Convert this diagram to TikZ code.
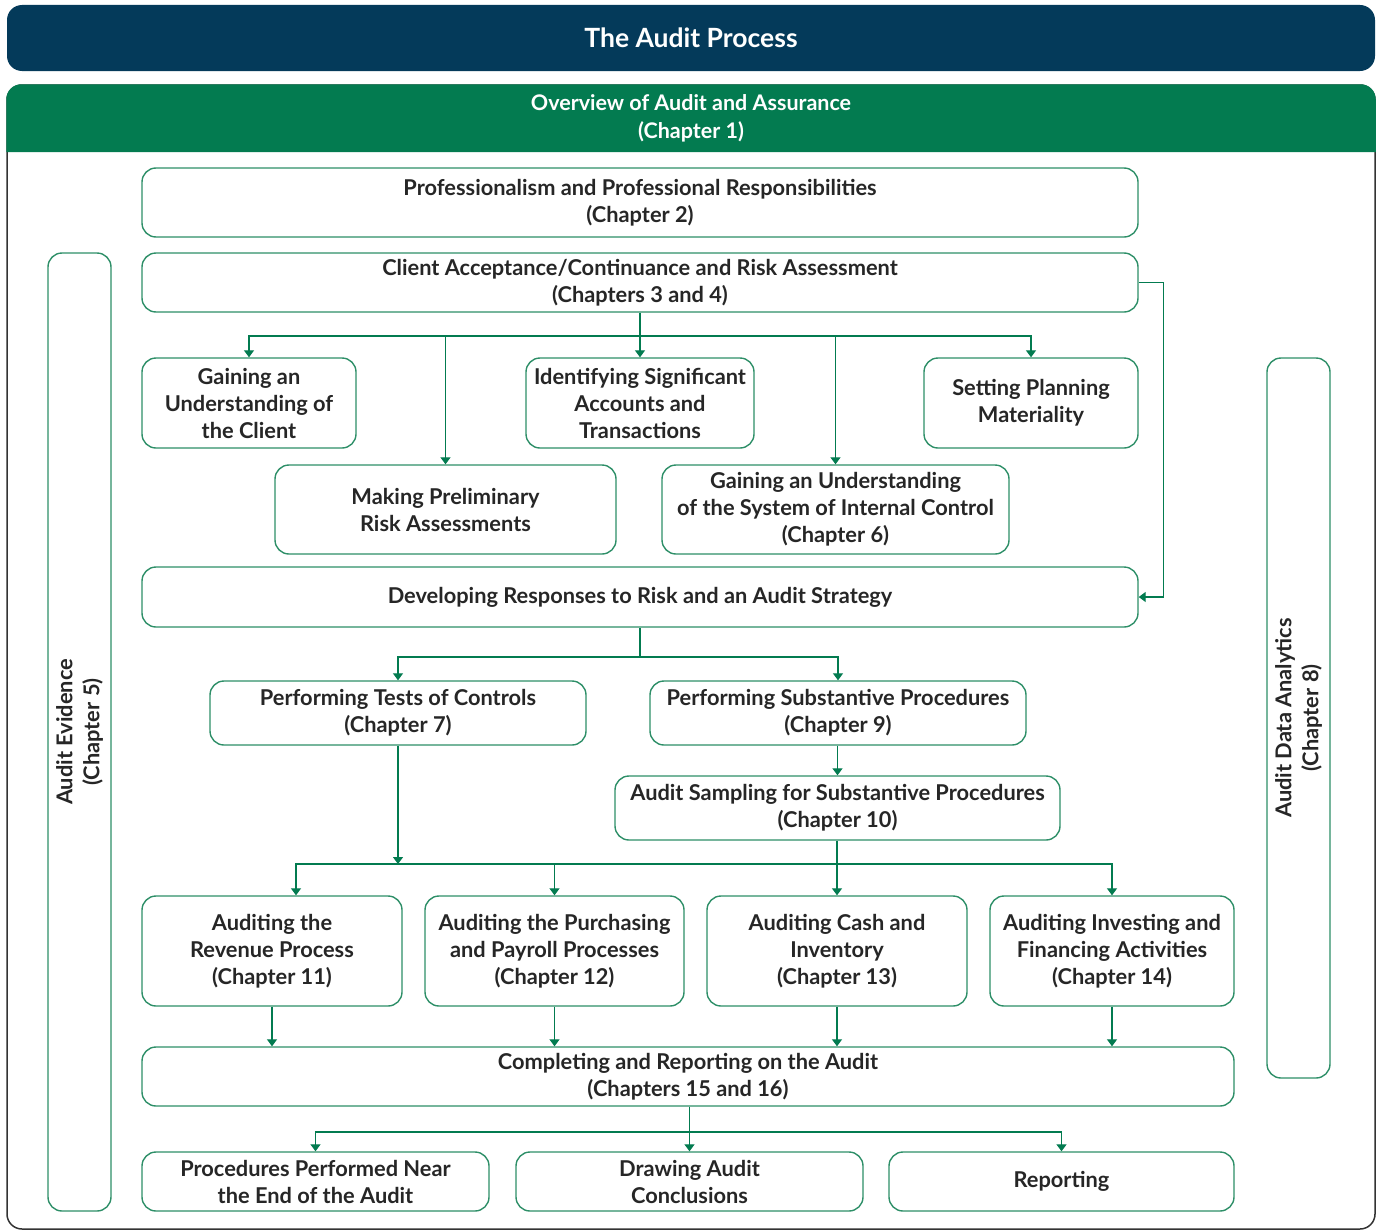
\documentclass[tikz,border=0pt]{standalone}
\usepackage{fontspec}
\setmainfont{Lato}
\usepackage{xcolor}
\usetikzlibrary{arrows.meta,positioning,calc}
\definecolor{navy}{HTML}{043A5A}
\definecolor{audgreen}{HTML}{037B50}
\definecolor{boxline}{HTML}{2E8F68}
\definecolor{txt}{HTML}{262626}
\tikzset{
  box/.style={rectangle, rounded corners=14pt, draw=boxline, line width=1.4pt,
    fill=white, align=center, text=txt, inner sep=2pt,
    font=\bfseries\fontsize{21.8}{27}\selectfont},
  vbox/.style={box, rotate=90, minimum height=63pt},
  hdr/.style={align=center, text=white, font=\bfseries\fontsize{21.5}{28}\selectfont},
  tr/.style={-{Triangle[length=7pt,width=10pt]}, draw=audgreen, line width=1.3pt},
  ln/.style={draw=audgreen, line width=1.3pt},
}
\begin{document}
\begin{tikzpicture}[x=1pt,y=-1pt]
  \useasboundingbox (0,0) rectangle (1380,1231);
  % title bar and frame
  \node[fill=navy, rounded corners=15pt, minimum width=1368pt, minimum height=66pt,
    text=white, font=\bfseries\fontsize{26.5}{30}\selectfont] (title) at (691,38) {The Audit Process};
  \draw[draw=black!80, line width=1.5pt, rounded corners=15pt] (7,85) rectangle (1375,1229);
  \fill[audgreen] (6.25,152) {[rounded corners=15pt] -- (6.25,84.25) -- (1375.75,84.25)} -- (1375.75,152) -- cycle;
  \node[hdr] (overview) at (691,118) {Overview of Audit and Assurance\\(Chapter 1)};

  % side boxes
  \node[vbox, minimum width=958pt] (evid) at (79.5,732) {Audit Evidence\\(Chapter 5)};
  \node[vbox, minimum width=720pt] (ada) at (1298.5,718) {Audit Data Analytics\\(Chapter 8)};

  % planning
  \node[box, minimum width=996pt, minimum height=69pt] (prof) at (640,202.5)
    {Professionalism and Professional Responsibilities\\(Chapter 2)};
  \node[box, minimum width=996pt, minimum height=59pt] (client) at (640,282.5)
    {Client Acceptance/Continuance and Risk Assessment\\(Chapters 3 and 4)};
  \node[box, minimum width=214pt, minimum height=90pt] (gclient) at (249,403)
    {Gaining an\\Understanding of\\the Client};
  \node[box, minimum width=228pt, minimum height=90pt] (ident) at (640,403)
    {Identifying Significant\\Accounts and\\Transactions};
  \node[box, minimum width=214pt, minimum height=90pt] (setting) at (1031,403)
    {Setting Planning\\Materiality};
  \node[box, minimum width=341pt, minimum height=89pt] (prelim) at (445.5,509.5)
    {Making Preliminary\\Risk Assessments};
  \node[box, minimum width=347pt, minimum height=89pt] (intctl) at (835.5,509.5)
    {Gaining an Understanding\\of the System of Internal Control\\(Chapter 6)};
  \node[box, minimum width=996pt, minimum height=60pt] (dev) at (640,597)
    {Developing Responses to Risk and an Audit Strategy};

  % testing
  \node[box, minimum width=376pt, minimum height=64pt] (toc) at (398,713)
    {Performing Tests of Controls\\(Chapter 7)};
  \node[box, minimum width=376pt, minimum height=64pt] (subst) at (838,713)
    {Performing Substantive Procedures\\(Chapter 9)};
  \node[box, minimum width=445pt, minimum height=64pt] (samp) at (837.5,808)
    {Audit Sampling for Substantive Procedures\\(Chapter 10)};
  \node[box, minimum width=260pt, minimum height=110pt] (rev) at (272,951)
    {Auditing the\\Revenue Process\\(Chapter 11)};
  \node[box, minimum width=259pt, minimum height=110pt] (purch) at (554.5,951)
    {Auditing the Purchasing\\and Payroll Processes\\(Chapter 12)};
  \node[box, minimum width=260pt, minimum height=110pt] (cash) at (837,951)
    {Auditing Cash and\\Inventory\\(Chapter 13)};
  \node[box, minimum width=244pt, minimum height=110pt] (inv) at (1112,951)
    {Auditing Investing and\\Financing Activities\\(Chapter 14)};

  % completion
  \node[box, minimum width=1092pt, minimum height=59pt] (compl) at (688,1076.5)
    {Completing and Reporting on the Audit\\(Chapters 15 and 16)};
  \node[box, minimum width=347pt, minimum height=59pt] (proc) at (315.5,1181.5)
    {Procedures Performed Near\\the End of the Audit};
  \node[box, minimum width=347pt, minimum height=59pt] (drw) at (689.5,1181.5)
    {Drawing Audit\\Conclusions};
  \node[box, minimum width=345pt, minimum height=59pt] (rep) at (1061.5,1181.5)
    {Reporting};

  % connectors
  \coordinate (bus1) at (640,336);
  \draw[tr] (client.south) -- (ident.north);
  \draw[tr] (bus1) -| (gclient.north);
  \draw[tr] (bus1) -| (prelim.north);
  \draw[tr] (bus1) -| (intctl.north);
  \draw[tr] (bus1) -| (setting.north);
  \draw[tr] (client.east) -- ++(25,0) |- (dev.east);

  \coordinate (bus2) at (640,657);
  \draw[ln] (dev.south) -- (bus2);
  \draw[tr] (bus2) -| (toc.north);
  \draw[tr] (bus2) -| (subst.north);
  \draw[tr] (samp.north |- subst.south) -- (samp.north);

  \coordinate (bus3) at (398,864);
  \draw[tr] (toc.south) -- (bus3);
  \draw[tr] (bus3) -| ([xshift=24pt]rev.north);
  \draw[tr] (bus3) -| (purch.north);
  \draw[tr] (bus3) -| (inv.north);
  \draw[tr] (cash.north |- samp.south) -- (cash.north);

  \draw[tr] (rev.south) -- (rev.south |- compl.north);
  \draw[tr] (purch.south) -- (purch.south |- compl.north);
  \draw[tr] (cash.south) -- (cash.south |- compl.north);
  \draw[tr] (inv.south) -- (inv.south |- compl.north);

  \coordinate (bus4) at (689.5,1132);
  \draw[tr] (drw.north |- compl.south) -- (drw.north);
  \draw[tr] (bus4) -| (proc.north);
  \draw[tr] (bus4) -| (rep.north);
\end{tikzpicture}
\end{document}
